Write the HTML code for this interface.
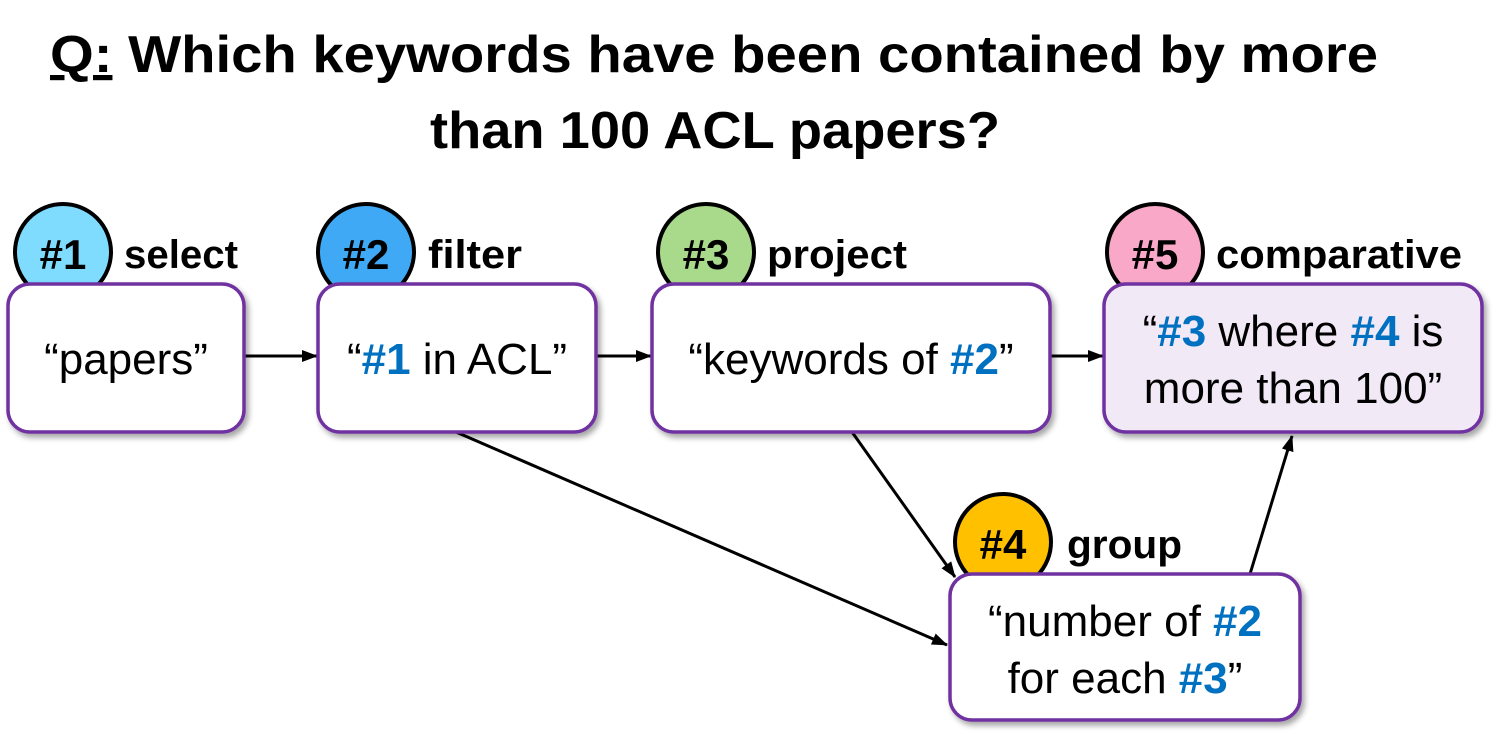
<!DOCTYPE html>
<html><head><meta charset="utf-8"><style>
html,body{margin:0;padding:0;background:#fff}
svg{display:block}
text{font-family:"Liberation Sans",sans-serif}
.b{font-weight:bold}
.n{fill:#0070c0;font-weight:bold}
</style></head><body>
<svg width="1508" height="739" viewBox="0 0 1508 739" xmlns="http://www.w3.org/2000/svg">
<defs>
<marker id="ar" markerWidth="16" markerHeight="12" refX="15" refY="6" orient="auto" markerUnits="userSpaceOnUse" viewBox="0 0 16 12"><path d="M0,0 L16,6 L0,12 z" fill="#000"/></marker>
<filter id="sh" x="-10%" y="-10%" width="120%" height="130%"><feDropShadow dx="3" dy="4" stdDeviation="3" flood-color="#000" flood-opacity="0.35"/></filter>
</defs>
<text x="50" y="72" font-size="52" class="b" textLength="1328" lengthAdjust="spacingAndGlyphs"><tspan text-decoration="underline">Q:</tspan>  Which keywords have been contained by more</text>
<text x="430" y="148" font-size="52" class="b" textLength="570" lengthAdjust="spacingAndGlyphs">than 100 ACL papers?</text>

<g stroke="#000" stroke-width="3" fill="none">
<line x1="244" y1="356" x2="317" y2="356" marker-end="url(#ar)"/>
<line x1="596" y1="356" x2="651" y2="356" marker-end="url(#ar)"/>
<line x1="1050" y1="356" x2="1103" y2="356" marker-end="url(#ar)"/>
<line x1="456" y1="432" x2="947" y2="645" marker-end="url(#ar)"/>
<line x1="852" y1="432" x2="955" y2="577" marker-end="url(#ar)"/>
<line x1="1250" y1="574" x2="1292" y2="436" marker-end="url(#ar)"/>
</g>

<g stroke="#000" stroke-width="4">
<circle cx="63" cy="252" r="48" fill="#80dcff"/>
<circle cx="366" cy="252" r="48" fill="#3fa9f5"/>
<circle cx="706" cy="252" r="48" fill="#a9d98a"/>
<circle cx="1155" cy="252" r="48" fill="#f9a8c8"/>
<circle cx="1003" cy="542" r="48" fill="#ffc000"/>
</g>
<g font-size="42" class="b">
<text x="63" y="269" text-anchor="middle">#1</text>
<text x="366" y="269" text-anchor="middle">#2</text>
<text x="706" y="269" text-anchor="middle">#3</text>
<text x="1155" y="269" text-anchor="middle">#5</text>
<text x="1003" y="559" text-anchor="middle">#4</text>
</g>
<g font-size="40" class="b">
<text x="124" y="268" textLength="114" lengthAdjust="spacingAndGlyphs">select</text>
<text x="428" y="268" textLength="94" lengthAdjust="spacingAndGlyphs">filter</text>
<text x="767" y="268" textLength="140" lengthAdjust="spacingAndGlyphs">project</text>
<text x="1216" y="268" textLength="246" lengthAdjust="spacingAndGlyphs">comparative</text>
<text x="1067" y="558" textLength="115" lengthAdjust="spacingAndGlyphs">group</text>
</g>

<g stroke="#7030a0" stroke-width="3.5" filter="url(#sh)">
<rect x="8" y="284" width="236" height="148" rx="22" fill="#fff"/>
<rect x="318" y="284" width="278" height="148" rx="22" fill="#fff"/>
<rect x="652" y="284" width="398" height="148" rx="22" fill="#fff"/>
<rect x="1104" y="284" width="378" height="148" rx="22" fill="#f2e9f7"/>
<rect x="950" y="574" width="350" height="146" rx="22" fill="#fff"/>
</g>
<g font-size="44" text-anchor="middle">
<text x="126" y="374">“papers”</text>
<text x="457" y="374">“<tspan class="n">#1</tspan> in ACL”</text>
<text x="851" y="374">“keywords of <tspan class="n">#2</tspan>”</text>
<text x="1293" y="346">“<tspan class="n">#3</tspan> where <tspan class="n">#4</tspan> is</text>
<text x="1293" y="403">more than 100”</text>
<text x="1125" y="636">“number of <tspan class="n">#2</tspan></text>
<text x="1125" y="693">for each <tspan class="n">#3</tspan>”</text>
</g>
</svg>
</body></html>
